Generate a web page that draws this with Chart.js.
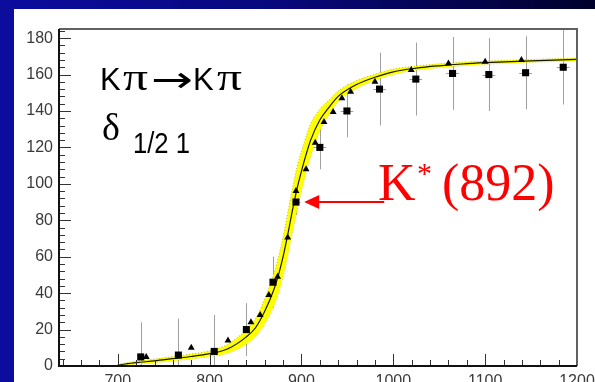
<!DOCTYPE html>
<html>
<head>
<meta charset="utf-8">
<script src="https://cdn.jsdelivr.net/npm/chart.js@4.4.1/dist/chart.umd.min.js"></script>
<style>
  html, body { margin: 0; padding: 0; }
  body {
    width: 595px; height: 382px; overflow: hidden; position: relative;
    background: linear-gradient(to right, #0c0c9e 0%, #08087e 45%, #00002c 100%);
  }
  #panel { position: absolute; left: 14px; top: 9px; width: 581px; height: 373px; background: #fff; overflow: hidden; }
  #panel canvas { display: block; }
</style>
</head>
<body>
<div id="panel"><canvas id="delta-graph" width="581" height="373"></canvas></div>
<script>
// Points mesurés : carrés (avec barres d'erreur) et triangles
const squareMass = [725, 766, 805, 840, 869, 894, 920, 949.5, 985, 1024.5, 1064.5, 1104, 1144, 1185];
const squarePhase = [5, 6, 8, 20, 46, 90, 120, 140, 152, 157.5, 160.6, 160, 161, 164];
const squareErr = [19, 20, 20, 14.5, 14, 7, 12, 14.5, 20, 20, 20, 20, 20, 20.5];
const squareMassErr = [0, 0, 0, 0, 0, 5, 7, 7, 7, 7, 7, 7, 7, 7];

const triangleMass = [731, 780, 820, 845, 855, 864.5, 874, 885, 894, 905, 915, 924.5, 934.5, 944, 953.5, 980, 1019.5, 1060, 1100, 1139.5];
const trianglePhase = [5, 10, 14, 24, 28, 39, 49, 70.5, 96, 108, 122.5, 134, 139.5, 147, 150.5, 156, 162.5, 166, 167, 168];

// Courbe théorique et sa bande d'incertitude
const curveMass = [700, 720, 740, 760, 780, 800, 820, 840, 850, 860, 870, 875, 880, 885, 890, 895, 900, 905, 910, 920, 930, 940, 960, 980, 1000, 1025, 1050, 1075, 1100, 1150, 1200];
const curvePhase = [0.5, 1.8, 2.8, 4.0, 5.2, 6.8, 9.5, 16, 21, 30, 42, 50, 60, 72, 85, 97, 107, 116, 124, 135, 142, 148, 154.5, 158.5, 161.5, 163.5, 164.8, 165.8, 166.5, 167.5, 168.3];
const bandLow = [0, 1.0, 1.8, 2.8, 3.8, 5.2, 7.0, 12, 16, 23, 33, 40, 49, 60, 73, 85, 96, 106, 115, 129, 138, 145, 152.3, 156.8, 160, 162.3, 163.7, 164.8, 165.6, 166.7, 167.5];
const bandHigh = [1, 2.6, 3.8, 5.2, 6.6, 8.4, 12, 20, 26, 37, 51, 60, 71, 84, 97, 109, 118, 126, 133, 141, 146, 151, 156.7, 160.2, 163, 164.7, 165.9, 166.8, 167.4, 168.3, 169.1];

// Graduations
const xTickValues = [700, 800, 900, 1000, 1100, 1200];
const yTickValues = [0, 20, 40, 60, 80, 100, 120, 140, 160, 180];

const toPoints = (xs, ys) => xs.map((v, i) => ({ x: v, y: ys[i] }));

// Texte étiré horizontalement jusqu'à une largeur donnée
function drawFitted(ctx, text, font, x, y, width) {
    ctx.font = font;
    const w = ctx.measureText(text).width;
    ctx.save();
    ctx.translate(x, y);
    ctx.scale(width / w, 1);
    ctx.fillText(text, 0, 0);
    ctx.restore();
}

// Barres d'erreur, graduations intérieures, cadre et textes
const decorations = {
    id: 'decorations',
    beforeDatasetsDraw(chart) {
        const { ctx, chartArea: a, scales: { x, y } } = chart;
        ctx.save();
        ctx.beginPath();
        ctx.rect(a.left, a.top, a.right - a.left, a.bottom - a.top);
        ctx.clip();
        ctx.strokeStyle = '#a0a0a0';
        ctx.lineWidth = 1;
        squareMass.forEach((m, i) => {
            const px = Math.round(x.getPixelForValue(m)) + 0.5;
            const py = Math.round(y.getPixelForValue(squarePhase[i])) + 0.5;
            ctx.beginPath();
            ctx.moveTo(px, y.getPixelForValue(squarePhase[i] + squareErr[i]));
            ctx.lineTo(px, y.getPixelForValue(squarePhase[i] - squareErr[i]));
            if (squareMassErr[i]) {
                ctx.moveTo(x.getPixelForValue(m - squareMassErr[i]), py);
                ctx.lineTo(x.getPixelForValue(m + squareMassErr[i]), py);
            }
            ctx.stroke();
        });
        ctx.restore();
    },
    afterDraw(chart) {
        const { ctx, chartArea: a, scales: { x, y } } = chart;
        ctx.save();

        // graduations vers l'intérieur
        ctx.strokeStyle = '#333';
        ctx.lineWidth = 1;
        ctx.beginPath();
        for (let v = 0; v <= 184; v += 4) {
            const py = Math.round(y.getPixelForValue(v)) + 0.5;
            const len = v % 20 === 0 ? 12 : 6;
            ctx.moveTo(a.left, py);
            ctx.lineTo(a.left + len, py);
        }
        for (let v = 640; v <= 1200; v += 20) {
            const px = Math.round(x.getPixelForValue(v)) + 0.5;
            const len = v % 100 === 0 ? 12 : 6;
            ctx.moveTo(px, a.bottom);
            ctx.lineTo(px, a.bottom - len);
        }
        ctx.stroke();

        // cadre
        ctx.lineWidth = 2;
        ctx.strokeStyle = '#606060';
        ctx.beginPath();
        ctx.moveTo(a.left, a.top);
        ctx.lineTo(a.right, a.top);
        ctx.lineTo(a.right, a.bottom);
        ctx.stroke();
        ctx.strokeStyle = '#111';
        ctx.beginPath();
        ctx.moveTo(a.left, a.top);
        ctx.lineTo(a.left, a.bottom);
        ctx.lineTo(a.right, a.bottom);
        ctx.stroke();

        // titre du processus
        ctx.fillStyle = '#000';
        ctx.textBaseline = 'alphabetic';
        ctx.font = '31px "Liberation Sans"';
        ctx.fillText('K', 86, 81);
        ctx.fillText('K', 179, 81);
        drawFitted(ctx, '\u03c0', '37px "Liberation Serif"', 109, 81, 25);
        drawFitted(ctx, '\u03c0', '37px "Liberation Serif"', 203, 81, 25);
        drawFitted(ctx, '\u2192', '36px "DejaVu Sans"', 137, 83, 42);
        ctx.font = '38px "Liberation Serif"';
        ctx.fillText('\u03b4', 88, 131);
        drawFitted(ctx, '1/2 1', '30px "Liberation Sans"', 119, 144, 57);

        // annotation de la résonance
        ctx.fillStyle = '#ff0000';
        ctx.strokeStyle = '#ff0000';
        ctx.font = '52px "Liberation Serif"';
        ctx.fillText('K', 364, 191);
        ctx.fillText('(892)', 428, 191);
        ctx.font = '30px "Liberation Serif"';
        ctx.fillText('*', 403, 174);

        const tipX = x.getPixelForValue(903);
        const tipY = Math.round(y.getPixelForValue(90));
        ctx.lineWidth = 2;
        ctx.beginPath();
        ctx.moveTo(tipX + 12, tipY);
        ctx.lineTo(tipX + 80, tipY);
        ctx.stroke();
        ctx.beginPath();
        ctx.moveTo(tipX, tipY);
        ctx.lineTo(tipX + 15, tipY - 7);
        ctx.lineTo(tipX + 15, tipY + 7);
        ctx.closePath();
        ctx.fill();

        ctx.restore();
    }
};

const ctx = document.getElementById('delta-graph');

const graph = new Chart(ctx, {
    type: 'scatter',
    data: {
        datasets: [
            {
                data: toPoints(curveMass, bandLow),
                showLine: true,
                borderColor: 'rgba(120, 120, 0, 0.5)',
                borderWidth: 1,
                borderDash: [1, 2],
                pointRadius: 0,
                cubicInterpolationMode: 'monotone',
                order: 5
            },
            {
                data: toPoints(curveMass, bandHigh),
                showLine: true,
                borderColor: 'rgba(120, 120, 0, 0.5)',
                borderWidth: 1,
                borderDash: [1, 2],
                backgroundColor: '#ffff00',
                fill: '-1',
                pointRadius: 0,
                cubicInterpolationMode: 'monotone',
                order: 4
            },
            {
                data: toPoints(curveMass, curvePhase),
                showLine: true,
                borderColor: '#1a1a00',
                borderWidth: 1.2,
                pointRadius: 0,
                cubicInterpolationMode: 'monotone',
                order: 3
            },
            {
                data: toPoints(triangleMass, trianglePhase),
                pointStyle: 'triangle',
                pointRadius: 4,
                backgroundColor: '#000',
                borderColor: '#000',
                borderWidth: 0,
                order: 2
            },
            {
                data: toPoints(squareMass, squarePhase),
                pointStyle: 'rect',
                pointRadius: 5,
                backgroundColor: '#000',
                borderColor: '#000',
                borderWidth: 0,
                order: 1
            }
        ]
    },
    options: {
        responsive: false,
        animation: false,
        layout: { padding: { top: 20, right: 18, left: 0, bottom: 0 } },
        plugins: {
            legend: { display: false },
            tooltip: { enabled: false }
        },
        scales: {
            x: {
                type: 'linear',
                min: 636,
                max: 1200,
                grid: { display: false, drawTicks: false, tickLength: 0 },
                border: { display: false },
                afterBuildTicks: s => { s.ticks = xTickValues.map(v => ({ value: v })); },
                afterFit: s => { s.height = 16; s.paddingLeft = 0; s.paddingRight = 0; },
                ticks: {
                    autoSkip: false,
                    maxRotation: 0,
                    padding: 6,
                    color: '#3a3a3a',
                    font: { family: 'Liberation Sans', size: 16 },
                    callback: v => String(v)
                }
            },
            y: {
                min: 0,
                max: 185,
                grid: { display: false, drawTicks: false, tickLength: 0 },
                border: { display: false },
                afterBuildTicks: s => { s.ticks = yTickValues.map(v => ({ value: v })); },
                afterFit: s => { s.width = 45; },
                ticks: {
                    padding: 6,
                    color: '#3a3a3a',
                    font: { family: 'Liberation Sans', size: 16 },
                    callback: v => String(v)
                }
            }
        }
    },
    plugins: [decorations]
});
</script>
</body>
</html>
